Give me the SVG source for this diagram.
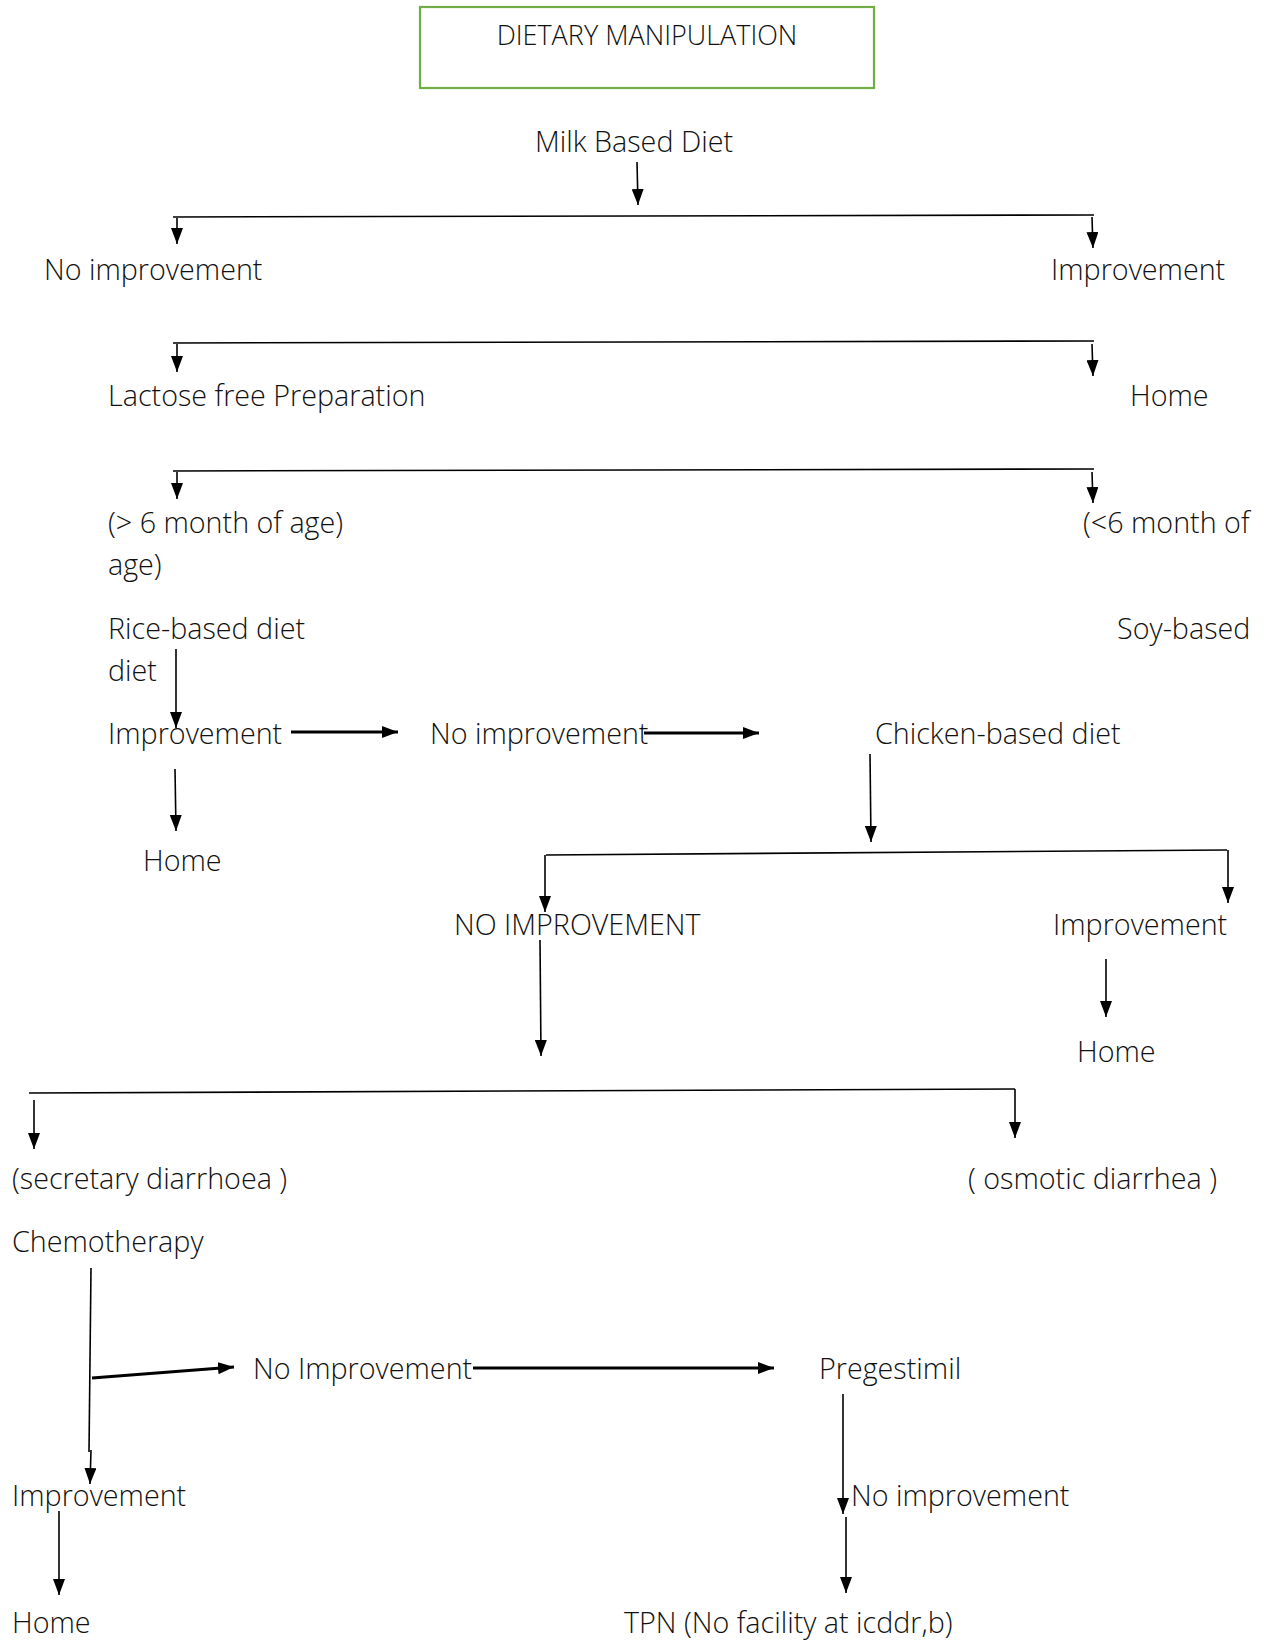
<svg xmlns="http://www.w3.org/2000/svg" width="1264" height="1642" viewBox="0 0 1264 1642">
<style>
  text { font-family: "Open Sans", "Liberation Sans", sans-serif; font-size: 28.7px; fill: #111; font-weight: 300; }
  .title { font-size: 27px; }
  .ln { stroke: #000; stroke-width: 1.6; fill: none; }
  .thick { stroke: #000; stroke-width: 2.8; fill: none; }
  .arr { marker-end: url(#ah); }
</style>
<defs>
  <marker id="ah" markerUnits="userSpaceOnUse" markerWidth="16" markerHeight="12" refX="16" refY="6" orient="auto">
    <path d="M0,0 L16,6 L0,12 z" fill="#000"/>
  </marker>
</defs>
<rect width="1264" height="1642" fill="#fff"/>

<g id="title">
  <rect x="420" y="7" width="454" height="81" fill="none" stroke="#70AD47" stroke-width="2.2"/>
  <text class="title" x="647" y="45" text-anchor="middle">DIETARY MANIPULATION</text>
</g>
<g id="milk"><text x="535" y="152">Milk Based Diet</text></g>
<g id="noimp1"><text x="44" y="280">No improvement</text></g>
<g id="imp1"><text x="1051" y="280">Improvement</text></g>
<g id="lactose"><text x="108" y="406">Lactose free Preparation</text></g>
<g id="home1"><text x="1130" y="406">Home</text></g>
<g id="gt6"><text x="108" y="533">(&gt; 6 month of age)</text><text x="108" y="575">age)</text></g>
<g id="lt6"><text x="1083" y="533">(&lt;6 month of</text></g>
<g id="rice"><text x="108" y="639">Rice-based diet</text><text x="108" y="681">diet</text></g>
<g id="soy"><text x="1117" y="639">Soy-based</text></g>
<g id="imp2"><text x="108" y="744">Improvement</text></g>
<g id="noimp2"><text x="430" y="744">No improvement</text></g>
<g id="chicken"><text x="875" y="744">Chicken-based diet</text></g>
<g id="home2"><text x="143" y="871">Home</text></g>
<g id="noimp3"><text x="454" y="935">NO IMPROVEMENT</text></g>
<g id="imp3"><text x="1053" y="935">Improvement</text></g>
<g id="home3"><text x="1077" y="1062">Home</text></g>
<g id="secretary"><text x="12" y="1189">(secretary diarrhoea )</text></g>
<g id="osmotic"><text x="968" y="1189">( osmotic diarrhea )</text></g>
<g id="chemo"><text x="12" y="1252">Chemotherapy</text></g>
<g id="noimp4"><text x="253" y="1379">No Improvement</text></g>
<g id="pregestimil"><text x="819" y="1379">Pregestimil</text></g>
<g id="imp4"><text x="12" y="1506">Improvement</text></g>
<g id="noimp5"><text x="851" y="1506">No improvement</text></g>
<g id="home4"><text x="12" y="1633">Home</text></g>
<g id="tpn"><text x="624" y="1633">TPN (No facility at icddr,b)</text></g>

<g id="connectors">
  <line class="ln arr" x1="637" y1="162" x2="638" y2="205"/>
  <line class="ln" x1="173" y1="217" x2="1094" y2="215"/>
  <line class="ln arr" x1="177" y1="218" x2="177" y2="244"/>
  <line class="ln arr" x1="1092" y1="217" x2="1093" y2="248"/>

  <line class="ln" x1="173" y1="343" x2="1094" y2="341"/>
  <line class="ln arr" x1="177" y1="344" x2="177" y2="372"/>
  <line class="ln arr" x1="1092" y1="344" x2="1093" y2="376"/>

  <line class="ln" x1="173" y1="471" x2="1094" y2="469"/>
  <line class="ln arr" x1="177" y1="472" x2="177" y2="499"/>
  <line class="ln arr" x1="1092" y1="472" x2="1093" y2="503"/>

  <line class="ln arr" x1="176" y1="649" x2="176" y2="728"/>
  <line class="thick arr" x1="291" y1="732" x2="398" y2="732"/>
  <line class="thick arr" x1="644" y1="733" x2="759" y2="733"/>
  <line class="ln arr" x1="175" y1="769" x2="176" y2="831"/>
  <line class="ln arr" x1="870" y1="754" x2="871" y2="842"/>

  <line class="ln" x1="546" y1="855" x2="1227" y2="850"/>
  <line class="ln arr" x1="545" y1="855" x2="545" y2="912"/>
  <line class="ln arr" x1="1228" y1="850" x2="1228" y2="903"/>
  <line class="ln arr" x1="540" y1="940" x2="541" y2="1056"/>
  <line class="ln arr" x1="1106" y1="959" x2="1106" y2="1017"/>

  <line class="ln" x1="29" y1="1093" x2="1015" y2="1089"/>
  <line class="ln arr" x1="34" y1="1100" x2="34" y2="1149"/>
  <line class="ln arr" x1="1015" y1="1089" x2="1015" y2="1138"/>

  <line class="ln" x1="91" y1="1268" x2="89" y2="1452"/>
  <line class="ln arr" x1="91" y1="1450" x2="90" y2="1484"/>
  <line class="thick arr" x1="92" y1="1378" x2="234" y2="1367"/>
  <line class="thick arr" x1="473" y1="1368" x2="774" y2="1368"/>
  <line class="ln arr" x1="843" y1="1394" x2="843" y2="1514"/>
  <line class="ln arr" x1="846" y1="1517" x2="846" y2="1593"/>
  <line class="ln arr" x1="59" y1="1511" x2="59" y2="1595"/>
</g>
</svg>
